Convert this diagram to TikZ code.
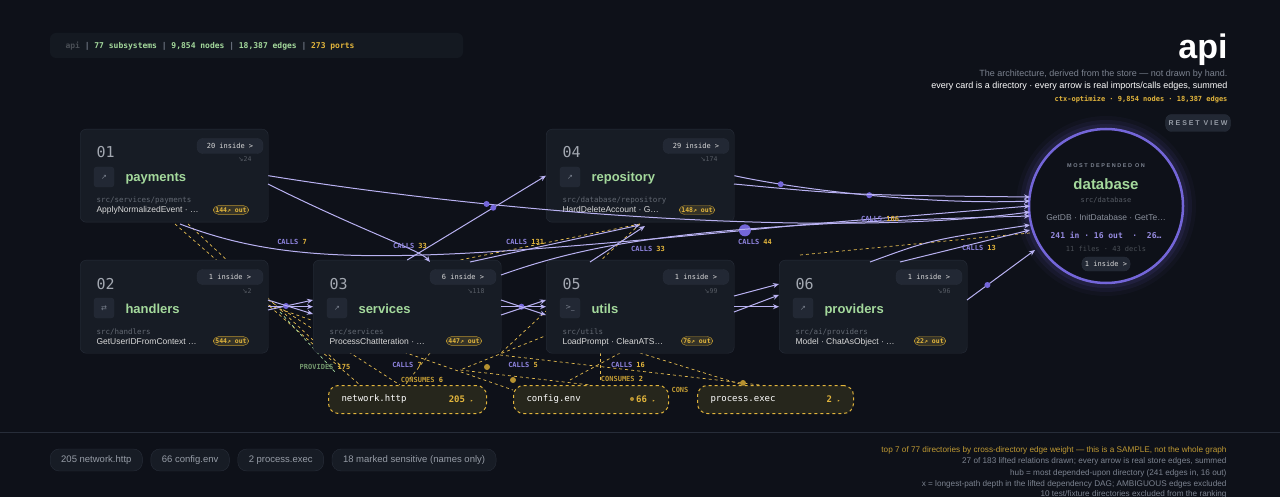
\documentclass[tikz,border=0pt]{standalone}
\usepackage{fontspec}
\setmainfont{Liberation Sans}
\setmonofont{DejaVu Sans Mono}
\newfontfamily\symfont{DejaVu Sans}
\usetikzlibrary{arrows.meta,positioning}
\definecolor{bgc}{HTML}{0E1119}
\definecolor{cardc}{HTML}{171C25}
\definecolor{cardline}{HTML}{272D39}
\definecolor{pillc}{HTML}{222834}
\definecolor{edgec}{HTML}{B9B2F2}
\definecolor{purp}{HTML}{7466D9}
\definecolor{greenc}{HTML}{A4D99C}
\definecolor{yel}{HTML}{E2B53C}
\definecolor{greyc}{HTML}{7C8390}
\definecolor{portc}{HTML}{26261C}
\newcommand\fs[1]{\fontsize{#1}{#1}\selectfont}
\newcommand\sep{\textcolor{greyc}{\ |\ }}
\tikzset{
  card/.style={draw=cardline, fill=cardc, rounded corners=6, anchor=north west,
    minimum width=188pt, minimum height=93pt, inner sep=0pt},
  pill/.style={draw=cardline, fill=pillc, rounded corners=6, text=white!85!black,
    font=\ttfamily\fs{7}, inner sep=3pt},
  outpill/.style={draw=yel!80!black, fill=yel!15!cardc, rounded corners=5, text=yel,
    font=\ttfamily\bfseries\fs{6.5}, inner sep=2pt},
  port/.style={draw=yel, dashed, line width=1pt, fill=portc, rounded corners=10,
    anchor=north west, minimum width=158pt, minimum height=28pt},
  flow/.style={draw=edgec, line width=1pt, -{Stealth[length=6pt,width=5pt]}},
  dep/.style={draw=yel!90!white, dashed, line width=.7pt},
  dot/.style={circle, fill=purp, minimum size=6pt, inner sep=0pt},
  elabel/.style={font=\ttfamily\bfseries\fs{7}, text=purp!80!white},
  chip/.style={draw=cardline, fill=cardc, rounded corners=9, text=greyc!80!white,
    font=\fs{9.5}, minimum height=22pt, inner xsep=11pt, anchor=west},
  note/.style={anchor=base east, font=\fs{8.2}, text=greyc}
}
\begin{document}
\begin{tikzpicture}[x=1pt, y=-1pt]
  \fill[bgc] (0,0) rectangle (1280,497);
  \useasboundingbox (0,0) rectangle (1280,497);
  % stat bar
  \fill[cardc!70!bgc, rounded corners=6] (50,33) rectangle (463,58);
  \node[anchor=west, font=\ttfamily\bfseries\fs{8}] (stats) at (62,46)
    {\textcolor{greyc!60!black}{api}\sep\textcolor{greenc}{77 subsystems}\sep\textcolor{greenc}{9,854 nodes}\sep\textcolor{greenc}{18,387 edges}\sep\textcolor{yel}{273 ports}};
  % header
  \node[anchor=base east, font=\bfseries\fs{34}, text=white] (title) at (1231,59) {api};
  \node[note, font=\fs{9}] (sub1) at (1231,77) {The architecture, derived from the store --- not drawn by hand.};
  \node[note, font=\fs{9}, text=white] (sub2) at (1231,89) {every card is a directory · every arrow is real imports/calls edges, summed};
  \node[note, font=\ttfamily\bfseries\fs{7}, text=yel] (sub3) at (1231,102) {ctx-optimize · 9,854 nodes · 18,387 edges};
  \node[pill, font=\bfseries\fs{7}, text=greyc!80!white, minimum height=17pt] (reset) at (1198,123) {R E S E T\ \ V I E W};
  % yellow dependency lines (behind the cards)
  \draw[dep] (175,224) -- (360,385);
  \draw[dep] (188,224) -- (340,365);
  \draw[dep] (268,300) -- (400,385);
  \draw[dep] (268,305) -- (513,390);
  \draw[dep, draw=greenc] (280,312) -- (335,372);
  \draw[dep] (430,353) -- (405,385);
  \draw[dep] (640,224) -- (420,268);
  \draw[dep] (640,224) -- (501,353);
  \draw[dep] (560,330) -- (460,370) -- (590,385);
  \draw[dep] (600,353) -- (600,382);
  \draw[dep] (620,353) -- (570,380);
  \draw[dep] (640,353) -- (743,385);
  \draw[dep] (500,355) -- (760,385);
  \draw[dep] (800,255) -- (1040,232);
  % cards
  \foreach \id/\x/\y/\ico/\ins/\dpt/\cname/\cpath/\fn/\out in {
    01/80/129/↗/20/24/payments/src\slash services\slash payments/{ApplyNormalizedEvent · \ldots}/144,
    04/546/129/↗/29/174/repository/src\slash database\slash repository/{HardDeleteAccount · G\ldots}/148,
    02/80/260/⇄/1/2/handlers/src\slash handlers/{GetUserIDFromContext \ldots}/544,
    03/313/260/↗/6/118/services/src\slash services/{ProcessChatIteration · \ldots}/447,
    05/546/260/>\_/1/99/utils/src\slash utils/{LoadPrompt · CleanATS\ldots}/76,
    06/779/260/↗/1/96/providers/src\slash ai\slash providers/{Model · ChatAsObject · \ldots}/22} {
    \node[card] (c\id) at (\x,\y) {};
    \begin{scope}[shift={(\x,\y)}]
      \node[anchor=base west, font=\ttfamily\fs{15}, text=greyc!70!white] at (13,29) {\id};
      \node[pill, minimum height=15pt, minimum width=66pt] at (150,17) {\ins{} inside \textgreater};
      \node[anchor=base east, font=\ttfamily\fs{6.5}, text=greyc!70!black] at (175,33) {\symfont↘\ttfamily\dpt};
      \node[draw=cardline, fill=pillc, rounded corners=3, minimum size=20pt, inner sep=0pt,
        font=\symfont\fs{7}, text=greyc] at (24,48) {\ico};
      \node[anchor=base west, font=\bfseries\fs{13}, text=greenc] at (42,53) {\cname};
      \node[anchor=base west, font=\ttfamily\fs{7.5}, text=greyc!80!black] at (13,74) {\cpath};
      \node[anchor=base west, font=\fs{8.5}, text=white!85!black] at (13,84) {\fn};
      \node[outpill] at (151,81) {\out↗ out};
    \end{scope}
  }
  % hub
  \foreach \r/\o in {90/.04,86/.07,82/.1} \fill[purp, opacity=\o] (1106,206) circle (\r);
  \node[circle, draw=purp, line width=2.5pt, fill=bgc, minimum size=154pt] (db) at (1106,206) {};
  \node[font=\bfseries\fs{5.5}, text=greyc] (hubtag) at (1106,166) {M O S T\ \ D E P E N D E D\ \ O N};
  \node[font=\bfseries\fs{15}, text=greenc] (hubname) at (1106,184) {database};
  \node[font=\ttfamily\fs{7}, text=greyc!70!black] at (1106,200) {src/database};
  \node[font=\fs{8.5}, text=greyc!90!white] at (1106,217) {GetDB · InitDatabase · GetTe\ldots};
  \node[font=\ttfamily\bfseries\fs{8}, text=purp!75!white] at (1106,235) {241 in · 16 out \ · \ 26\ldots};
  \node[font=\ttfamily\fs{7}, text=greyc!60!black] at (1106,249) {11 files · 43 decls};
  \node[pill, minimum height=14pt] (hubin) at (1106,264) {1 inside \textgreater};
  \fill[yel!80!black] (487,367) circle (3) (513,380) circle (3) (743,383) circle (3);
  % ports
  \node[port] (p1) at (328,385) {};
  \node[port, minimum width=155pt] (p2) at (513,385) {};
  \foreach \p/\t/\n in {p1/network.http/205, p2/config.env/66} {
    \node[anchor=west, font=\ttfamily\fs{9}, text=white] at ([xshift=10pt]\p.west) {\t};
    \node[anchor=east, font=\ttfamily\bfseries\fs{9}, text=yel] at ([xshift=-10pt]\p.east) {\n\ \fs{5}▸};
  }
  \fill[yel!80!black] (632,399) circle (2);
  % call edges
  \draw[flow] (c01.east) .. controls (480,210) and (820,240) .. node[dot, pos=.30] {} (1030,212);
  \draw[flow] (268,184) .. controls (360,230) and (420,250) .. (430,262);
  \draw[flow] (c03.north) -- node[dot, pos=.62] {} (c04.west);
  \draw[flow] (c04.east) .. controls (800,190) and (930,205) .. node[dot, pos=.2] {} node[dot, pos=.5] {} (1030,201);
  \draw[flow] (734,184) .. controls (850,195) .. (1030,197);
  \draw[flow] (c02.east) -- (c03.west);
  \draw[flow] (268,310) -- node[dot, pos=.4] {} (313,300);
  \draw[flow] (268,300) -- (313,314);
  \draw[flow] (c03.east) -- node[dot, pos=.45] {} (c05.west);
  \draw[flow] (501,300) -- (546,315);
  \draw[flow] (501,315) -- (546,300);
  \draw[flow] (c05.east) -- (c06.west);
  \draw[flow] (734,296) -- (779,284);
  \draw[flow] (734,312) -- (779,295);
  \draw[flow] (180,224) .. controls (300,270) and (420,262) .. node[dot, pos=.95, minimum size=12pt] {} (800,225) -- (1030,206);
  \draw[flow] (501,275) .. controls (600,240) and (700,225) .. (1030,216);
  \draw[flow] (870,262) .. controls (930,240) .. (1030,225);
  \draw[flow] (900,262) -- (1030,230);
  \draw[flow] (967,300) -- node[dot, pos=.3] {} (1035,250);
  \draw[flow] (470,262) -- (640,225);
  \draw[flow] (590,262) -- (645,226);
  % edge labels
  \foreach \x/\y/\n in {292/242/7, 410/246/33, 525/242/131, 648/249/33, 755/242/44, 880/219/106, 979/248/13,
                        407/365/7, 523/365/5, 628/365/16}
    \node[elabel] at (\x,\y) {CALLS \textcolor{yel}{\n}};
  \node[elabel, text=greenc!70!black] (prov) at (325,367) {PROVIDES \textcolor{yel}{175}};
  \node[elabel, text=yel!85!black] at (422,380) {CONSUMES \textcolor{yel}{6}};
  \node[elabel, text=yel!85!black] at (622,379) {CONSUMES \textcolor{yel}{2}};
  \node[elabel, text=yel!85!black, anchor=west] at (668,390) {CONS};
  \node[port, minimum width=156pt] (p3) at (697,385) {};
  \node[anchor=west, font=\ttfamily\fs{9}, text=white] at ([xshift=10pt]p3.west) {process.exec};
  \node[anchor=east, font=\ttfamily\bfseries\fs{9}, text=yel] at ([xshift=-10pt]p3.east) {2\ \fs{5}▸};
  % footer
  \draw[cardline] (0,432) -- (1280,432);
  \node[chip] (f1) at (50,460) {205 network.http};
  \node[chip, right=8pt of f1] (f2) {66 config.env};
  \node[chip, right=8pt of f2] (f3) {2 process.exec};
  \node[chip, right=8pt of f3] (f4) {18 marked sensitive (names only)};
  \node[note, text=yel!85!black] (n1) at (1230,452) {top 7 of 77 directories by cross-directory edge weight --- this is a SAMPLE, not the whole graph};
  \node[note] (n2) at (1230,463.5) {27 of 183 lifted relations drawn; every arrow is real store edges, summed};
  \node[note] (n3) at (1230,475) {hub = most depended-upon directory (241 edges in, 16 out)};
  \node[note] (n4) at (1230,486.5) {x = longest-path depth in the lifted dependency DAG; AMBIGUOUS edges excluded};
  \node[note] (n5) at (1230,496) {10 test/fixture directories excluded from the ranking};
\end{tikzpicture}
\end{document}
